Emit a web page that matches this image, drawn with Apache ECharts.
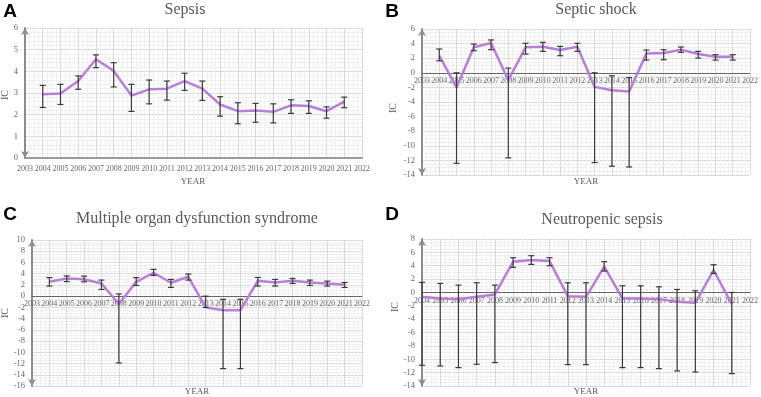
<!DOCTYPE html>
<html lang="en">
<head>
<meta charset="UTF-8">
<title>IC by year</title>
<script src="https://cdn.jsdelivr.net/npm/echarts@6/dist/echarts.min.js"></script>
<style>
  html, body { margin: 0; padding: 0; background: #fff; }
</style>
</head>
<body>
<div id="chart" style="width: 761px; height: 397px;"></div>
<script>
// years
var yearsA = [2004, 2005, 2006, 2007, 2008, 2009, 2010, 2011, 2012, 2013, 2014, 2015, 2016, 2017, 2018, 2019, 2020, 2021];
var yearsB = yearsA;
var yearsC = yearsA;
var yearsD = yearsA;

// tick labels on the year axes
var yearTicks = ['2003', '2004', '2005', '2006', '2007', '2008', '2009', '2010', '2011', '2012',
                 '2013', '2014', '2015', '2016', '2017', '2018', '2019', '2020', '2021', '2022'];
var yearTicksD = yearTicks.slice(1);

// A - Sepsis
var icA   = [2.94, 2.98, 3.55, 4.56, 4.02, 2.88, 3.17, 3.20, 3.55, 3.20, 2.47, 2.16, 2.19, 2.13, 2.43, 2.40, 2.16, 2.60];
var lowA  = [2.33, 2.47, 3.17, 4.17, 3.28, 2.15, 2.50, 2.67, 3.12, 2.66, 1.93, 1.58, 1.65, 1.62, 2.06, 2.06, 1.84, 2.32];
var highA = [3.35, 3.40, 3.79, 4.76, 4.40, 3.40, 3.60, 3.55, 3.91, 3.55, 2.83, 2.55, 2.52, 2.50, 2.69, 2.64, 2.36, 2.81];

// B - Septic shock
var icB   = [2.34, -2.0, 3.49, 4.08, -1.0, 3.49, 3.58, 3.12, 3.58, -1.93, -2.39, -2.57, 2.66, 2.71, 3.17, 2.57, 2.20, 2.20];
var lowB  = [1.65, -12.4, 3.03, 3.17, -11.65, 2.57, 2.94, 2.34, 2.94, -12.3, -12.8, -12.9, 1.74, 1.79, 2.80, 2.02, 1.74, 1.74];
var highB = [3.26, 0.0, 3.94, 4.50, 0.64, 4.04, 4.17, 3.62, 4.04, 0.0, -0.4, -0.65, 3.12, 3.17, 3.53, 2.94, 2.48, 2.48];

// C - Multiple organ dysfunction syndrome
var icC   = [2.56, 3.15, 3.00, 2.26, -1.4, 2.56, 4.17, 2.38, 3.45, -2.0, -2.5, -2.5, 2.74, 2.44, 2.74, 2.44, 2.26, 2.02];
var lowC  = [1.80, 2.60, 2.56, 1.20, -11.9, 1.90, 3.70, 1.55, 2.86, -2.0, -12.9, -12.9, 1.80, 1.80, 2.26, 1.90, 1.80, 1.55];
var highC = [3.30, 3.60, 3.57, 2.86, 0.40, 3.30, 4.76, 2.98, 3.93, 0.0, -0.55, -0.55, 3.33, 2.98, 3.15, 2.86, 2.68, 2.44];

// D - Neutropenic sepsis
var icD   = [-0.65, -0.9, -1.0, -0.65, -0.3, 4.6, 4.85, 4.7, -0.55, -0.65, 3.85, -0.9, -0.9, -1.0, -1.4, -1.55, 3.35, -1.75];
var lowD  = [-10.9, -11.0, -11.25, -10.75, -10.5, 3.75, 4.2, 4.0, -10.8, -10.8, 3.2, -11.25, -11.25, -11.4, -11.75, -11.9, 2.85, -12.15];
var highD = [1.5, 1.35, 1.1, 1.45, 1.1, 5.2, 5.5, 5.2, 1.45, 1.45, 4.6, 1.0, 1.0, 0.85, 0.45, 0.25, 4.15, 0.0];

var labelColor = '#666';
var serif = 'Liberation Serif';

var grids = [
    { left: 25, top: 28, width: 337, height: 130 },
    { left: 422, top: 29, width: 329, height: 146 },
    { left: 32, top: 240, width: 330, height: 146 },
    { left: 422, top: 239, width: 330, height: 147 }
];
var yRanges = [[0, 6, 1, 5], [-14, 6, 2, 4], [-16, 10, 2, 4], [-14, 8, 2, 4]];

function pairs(xs, ys) {
    return xs.map(function (x, i) { return [x, ys[i]]; });
}
function bars(xs, lo, hi) {
    return xs.map(function (x, i) { return [x, lo[i], hi[i]]; });
}

function errRender(params, api) {
    var x = api.value(0);
    var lo = api.coord([x, api.value(1)]);
    var hi = api.coord([x, api.value(2)]);
    var w = 3;
    var st = { stroke: '#3a3a3a', lineWidth: 1.2 };
    return {
        type: 'group',
        children: [
            { type: 'line', shape: { x1: lo[0], y1: lo[1], x2: hi[0], y2: hi[1] }, style: st },
            { type: 'line', shape: { x1: lo[0] - w, y1: lo[1], x2: lo[0] + w, y2: lo[1] }, style: st },
            { type: 'line', shape: { x1: hi[0] - w, y1: hi[1], x2: hi[0] + w, y2: hi[1] }, style: st }
        ]
    };
}

// the x axis sits on y = 0: shift it up from the grid bottom by that much
function zeroOffset(idx) {
    var r = yRanges[idx];
    if (r[0] >= 0) return 0;
    return -grids[idx].height * (0 - r[0]) / (r[1] - r[0]);
}

// value axis carrying the data, line and grid
function xAxisFor(idx, min) {
    var thick = zeroOffset(idx) === 0;
    return {
        type: 'value', gridIndex: idx, min: min, max: 2022, interval: 1,
        position: 'bottom', offset: zeroOffset(idx),
        axisLine: { onZero: false, lineStyle: thick ? { color: '#9a9a9a', width: 2 } : { color: '#666', width: 1 } },
        axisTick: { show: false },
        minorTick: { show: false, splitNumber: 4 },
        axisLabel: { show: false },
        splitLine: { show: true, lineStyle: { color: '#d9d9d9', width: 1 } },
        minorSplitLine: { show: true, lineStyle: { color: '#f0f0f0', width: 1 } }
    };
}

// category axis only for the year labels, so none get dropped
function xLabelsFor(idx, ticks) {
    var thick = zeroOffset(idx) === 0;
    return {
        type: 'category', gridIndex: idx, data: ticks, boundaryGap: false,
        position: 'bottom', offset: zeroOffset(idx),
        axisLine: { show: false, onZero: false },
        axisTick: { show: false },
        splitLine: { show: false },
        axisLabel: { interval: 0, color: labelColor, fontFamily: serif, fontSize: 8, margin: thick ? 7 : 4 }
    };
}

function yAxisFor(idx) {
    var r = yRanges[idx];
    return {
        type: 'value', gridIndex: idx, min: r[0], max: r[1], interval: r[2],
        axisLine: { show: true, onZero: false, symbol: ['arrow', 'arrow'], symbolSize: [6, 7],
            lineStyle: { color: '#8c8c8c', width: 2 } },
        axisTick: { show: false },
        minorTick: { show: false, splitNumber: r[3] },
        axisLabel: { color: labelColor, fontFamily: serif, fontSize: 8.5, margin: 7 },
        splitLine: { show: true, lineStyle: { color: '#d9d9d9', width: 1 } },
        minorSplitLine: { show: true, lineStyle: { color: '#f0f0f0', width: 1 } }
    };
}

function lineSeries(idx, data) {
    return {
        type: 'line', xAxisIndex: idx, yAxisIndex: idx, data: data,
        symbol: 'none', z: 3,
        lineStyle: { color: '#b77fd9', width: 2.5 }
    };
}
function errSeries(idx, data) {
    return {
        type: 'custom', xAxisIndex: idx, yAxisIndex: idx, data: data,
        renderItem: errRender, z: 4,
        encode: { x: 0, y: [1, 2] }
    };
}

function txt(x, y, s, size, opts) {
    opts = opts || {};
    return {
        type: 'text', x: x, y: y, rotation: opts.rot || 0, z: 10,
        style: {
            text: s, fill: opts.color || '#595959',
            font: (opts.bold ? 'bold ' : '') + size + 'px ' + (opts.family || serif),
            textAlign: 'center', textVerticalAlign: 'middle'
        }
    };
}

var chart = echarts.init(document.getElementById('chart'));
var option = {
    backgroundColor: '#fff',
    animation: false,
    grid: grids,
    xAxis: [
        xAxisFor(0, 2003),
        xAxisFor(1, 2003),
        xAxisFor(2, 2003),
        xAxisFor(3, 2004),
        xLabelsFor(0, yearTicks),
        xLabelsFor(1, yearTicks),
        xLabelsFor(2, yearTicks),
        xLabelsFor(3, yearTicksD)
    ],
    yAxis: [yAxisFor(0), yAxisFor(1), yAxisFor(2), yAxisFor(3)],
    series: [
        lineSeries(0, pairs(yearsA, icA)), errSeries(0, bars(yearsA, lowA, highA)),
        lineSeries(1, pairs(yearsB, icB)), errSeries(1, bars(yearsB, lowB, highB)),
        lineSeries(2, pairs(yearsC, icC)), errSeries(2, bars(yearsC, lowC, highC)),
        lineSeries(3, pairs(yearsD, icD)), errSeries(3, bars(yearsD, lowD, highD))
    ],
    graphic: [
        txt(10, 12, 'A', 19, { bold: true, color: '#000', family: 'Liberation Sans' }),
        txt(185, 10, 'Sepsis', 16),
        txt(193, 182, 'YEAR', 9),
        txt(5, 95, 'IC', 10, { rot: Math.PI / 2 }),

        txt(392, 12, 'B', 19, { bold: true, color: '#000', family: 'Liberation Sans' }),
        txt(596, 10, 'Septic shock', 16),
        txt(586, 182, 'YEAR', 9),
        txt(393, 108, 'IC', 10, { rot: Math.PI / 2 }),

        txt(10, 215, 'C', 19, { bold: true, color: '#000', family: 'Liberation Sans' }),
        txt(197, 219, 'Multiple organ dysfunction syndrome', 16),
        txt(197, 392, 'YEAR', 9),
        txt(5, 313, 'IC', 10, { rot: Math.PI / 2 }),

        txt(392, 215, 'D', 19, { bold: true, color: '#000', family: 'Liberation Sans' }),
        txt(602, 220, 'Neutropenic sepsis', 16),
        txt(586, 392, 'YEAR', 9),
        txt(395, 307, 'IC', 10, { rot: Math.PI / 2 })
    ]
};
chart.setOption(option);
</script>
</body>
</html>
